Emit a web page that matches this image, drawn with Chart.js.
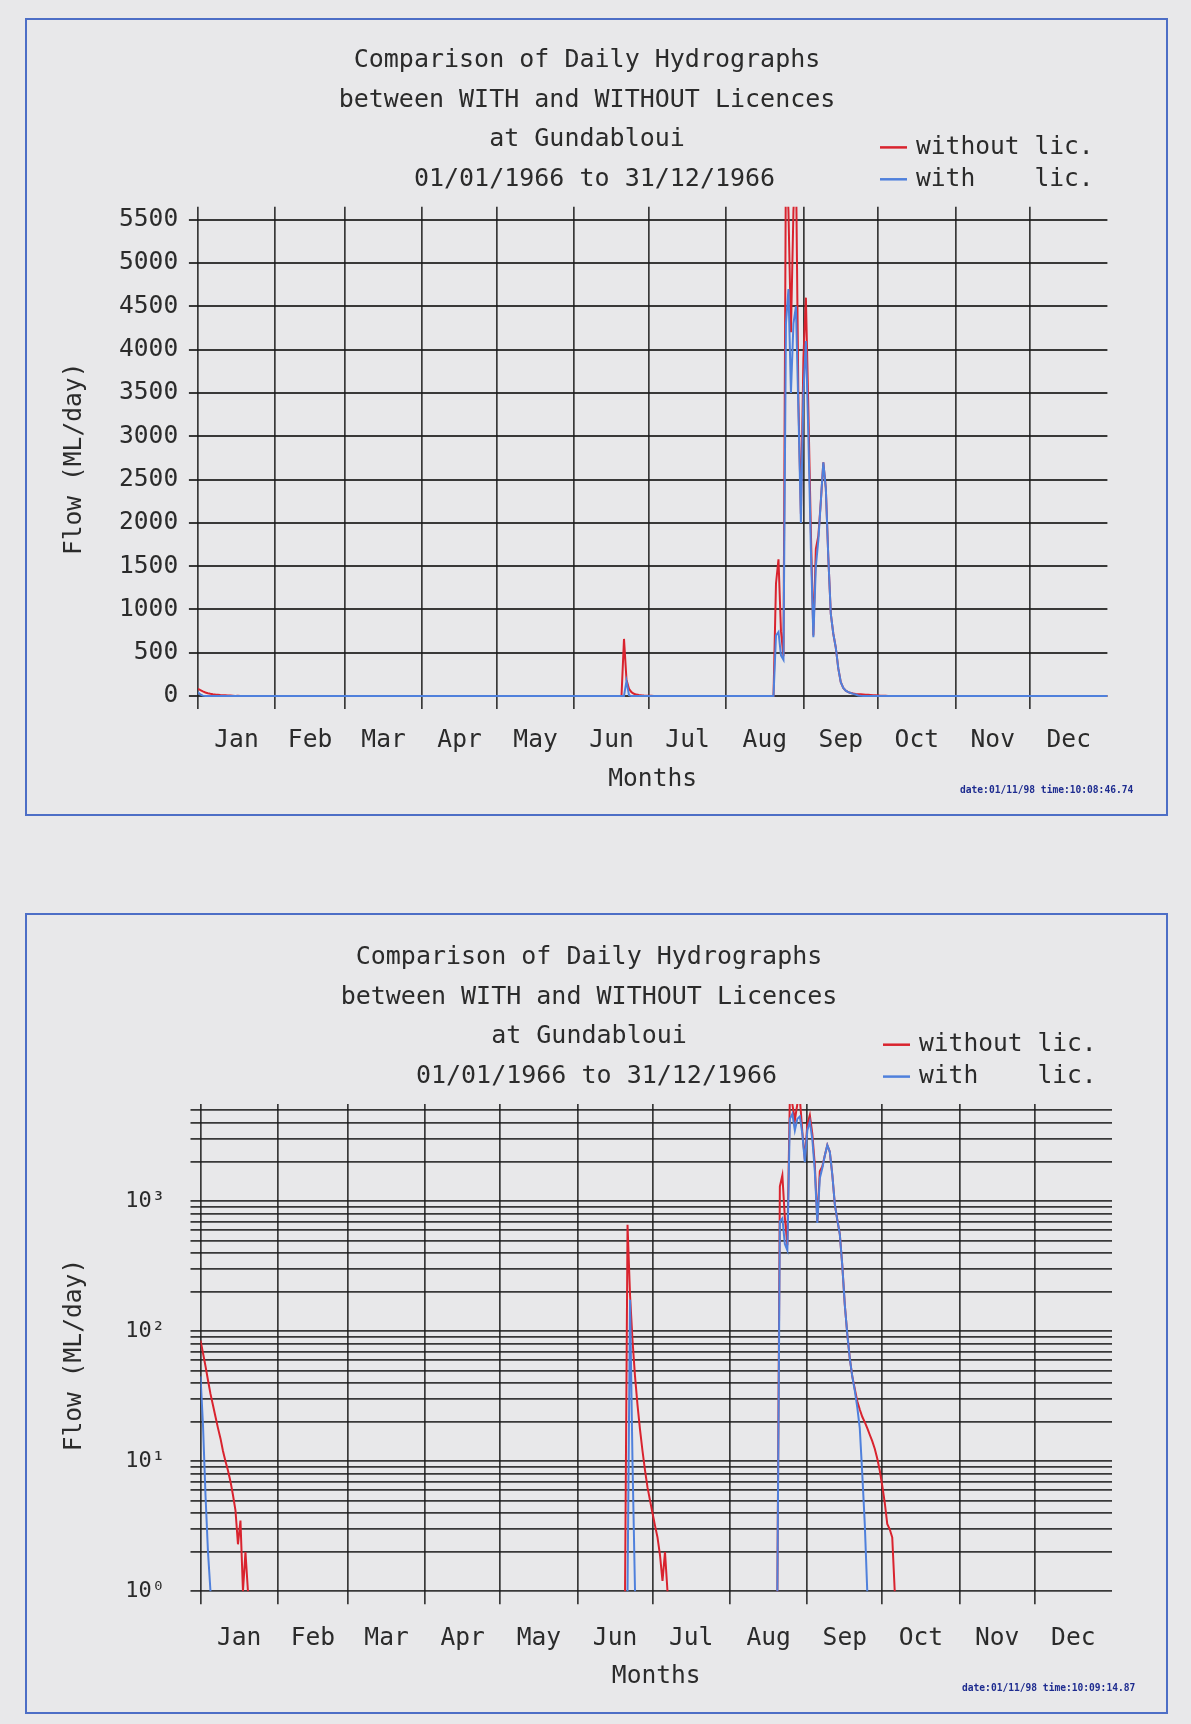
<!DOCTYPE html>
<html>
<head>
<meta charset="utf-8">
<title>Daily Hydrographs – Gundabloui 1966</title>
<script src="https://cdn.jsdelivr.net/npm/chart.js@4.4.1/dist/chart.umd.min.js"></script>
<style>
  html, body { margin: 0; padding: 0; background: #e8e8ea; }
  body { width: 1191px; height: 1724px; position: relative; overflow: hidden; }
  .panel { position: absolute; left: 25px; width: 1139px; border: 2px solid #4d6ec6; }
  #panelLinear { top: 18px; height: 794px; }
  #panelLog { top: 913px; height: 797px; }
  canvas { position: absolute; left: 27px; }
  #linearChart { top: 20px; }
  #logChart { top: 916px; }
  .stamp { position: absolute; font: bold 9.6px "DejaVu Sans Mono", monospace; color: #1d2b8f; white-space: pre; }
  #stampLinear { left: 960px; top: 784px; }
  #stampLog { left: 962px; top: 1682px; }
</style>
</head>
<body>
<div class="panel" id="panelLinear"></div>
<div class="panel" id="panelLog"></div>
<canvas id="linearChart" width="1138" height="793"></canvas>
<canvas id="logChart" width="1138" height="795"></canvas>
<div class="stamp" id="stampLinear">date:01/11/98 time:10:08:46.74</div>
<div class="stamp" id="stampLog">date:01/11/98 time:10:09:14.87</div>

<script>
// ---- calendar (day 0 = 1 Jan 1966) ----
const MONTHS = ['Jan', 'Feb', 'Mar', 'Apr', 'May', 'Jun', 'Jul', 'Aug', 'Sep', 'Oct', 'Nov', 'Dec'];
const MONTH_START = [0, 31, 59, 90, 120, 151, 181, 212, 243, 273, 304, 334];
const YEAR_DAYS = 365;

// ---- axis ticks ----
const LINEAR_TICKS = [0, 500, 1000, 1500, 2000, 2500, 3000, 3500, 4000, 4500, 5000, 5500];
const LOG_TICKS = [1, 2, 3, 4, 5, 6, 7, 8, 9,
                   10, 20, 30, 40, 50, 60, 70, 80, 90,
                   100, 200, 300, 400, 500, 600, 700, 800, 900,
                   1000, 2000, 3000, 4000, 5000];
const LOG_LABELS = { 1: '10⁰', 10: '10¹', 100: '10²', 1000: '10³' };

// ---- daily flows (ML/day), one run per flow event, first day of each run in *Start ----
// without licences
const withoutStart = [0, 170, 231];
const withoutJan = [85, 68, 54, 42, 33, 27, 22, 18, 15, 12, 10, 8.5, 7, 5.5, 4.2, 2.3, 3.5, 0, 2.0, 0];
const withoutJun = [0, 660, 190, 85, 45, 27, 17.5, 12, 8.5, 6.3, 5, 4, 3.2, 2.6, 1.9, 1.2, 2.0, 0];
const withoutAugSep = [0, 1300, 1580, 750, 460, 6300, 5600, 4200, 5600, 6200, 3400, 2100, 3900, 4600,
                       3300, 1900, 700, 1700, 1850, 2250, 2700, 2400, 1600, 950, 720, 560, 320, 160,
                       95, 62, 45, 36, 29, 25, 22, 20, 18, 16, 14.3, 12.5, 10.5, 8.5, 6.5, 4.8, 3.3,
                       3.0, 2.6, 0];
// with licences
const withStart = [0, 171, 231];
const withJan = [45, 19, 5.5, 2, 0];
const withJun = [0, 175, 9.7, 0];
const withAugSep = [0, 700, 740, 470, 420, 4300, 4700, 3500, 4300, 4500, 3300, 2000, 3500, 4100,
                    3000, 1700, 680, 1500, 1800, 2250, 2700, 2400, 1600, 950, 720, 560, 320, 160,
                    95, 62, 45, 35, 26, 18, 8, 3.3, 0];

const SERIES = {
  without: { label: 'without lic.', color: '#d9232e', starts: withoutStart, runs: [withoutJan, withoutJun, withoutAugSep] },
  with:    { label: 'with    lic.', color: '#4f80dc', starts: withStart,    runs: [withJan, withJun, withAugSep] }
};

const TITLE_LINES = [
  'Comparison of Daily Hydrographs',
  'between WITH and WITHOUT Licences',
  'at Gundabloui',
  ' 01/01/1966 to 31/12/1966'
];

// ---- styling ----
const FAMILY = '"DejaVu Sans Mono", "Liberation Mono", monospace';
const INK = '#2b2b2b';
const GRID = 'rgba(28,28,28,0.86)';
const TEXT_FONT = { family: FAMILY, size: 24.6 };

Chart.defaults.font.family = FAMILY;
Chart.defaults.color = INK;

// points of each event run, placed on the day axis
function eventPoints(s) {
  return s.runs.map((run, k) => run.map((v, i) => ({ x: s.starts[k] + i, y: v })));
}
// linear view: runs joined along zero, held at zero to the end of the year
function linearData(s) {
  const pts = eventPoints(s).flat();
  pts.push({ x: YEAR_DAYS, y: 0 });
  return pts;
}
// log view: flows under the axis floor sit on the floor, separate events are not joined
function logData(s, floor) {
  const pts = [];
  eventPoints(s).forEach(run => {
    run.forEach(p => pts.push({ x: p.x, y: Math.max(p.y, floor) }));
    pts.push({ x: run[run.length - 1].x + 0.5, y: null });
  });
  return pts;
}

function datasets(build) {
  return [
    { label: SERIES.without.label, data: build(SERIES.without), borderColor: SERIES.without.color,
      backgroundColor: SERIES.without.color, order: 2 },
    { label: SERIES.with.label, data: build(SERIES.with), borderColor: SERIES.with.color,
      backgroundColor: SERIES.with.color, order: 1 }
  ].map(d => Object.assign(d, {
    borderWidth: 2, pointRadius: 0, pointHoverRadius: 0, tension: 0, spanGaps: false,
    clip: { left: 0, top: 0, right: 0, bottom: 2 }
  }));
}

// legend: short line in the series colour followed by its label
const cornerLegend = {
  id: 'cornerLegend',
  afterDraw(chart, args, opts) {
    const ctx = chart.ctx;
    ctx.save();
    ctx.font = `${opts.size}px ${FAMILY}`;
    ctx.textBaseline = 'middle';
    ctx.textAlign = 'left';
    chart.data.datasets.forEach((ds, k) => {
      const y = opts.y + k * opts.gap;
      ctx.strokeStyle = ds.borderColor;
      ctx.lineWidth = 2.5;
      ctx.beginPath();
      ctx.moveTo(opts.x, y);
      ctx.lineTo(opts.x + 27, y);
      ctx.stroke();
      ctx.fillStyle = INK;
      ctx.fillText(ds.label, opts.x + 36, y);
    });
    ctx.restore();
  }
};

function monthAxes(labelPadding, titlePadding, height) {
  const mids = MONTH_START.map((d, i) => (d + (MONTH_START[i + 1] ?? YEAR_DAYS)) / 2);
  return {
    x: {
      type: 'linear', position: 'bottom', min: 0, max: YEAR_DAYS,
      afterBuildTicks: s => { s.ticks = MONTH_START.map(v => ({ value: v })); },
      ticks: { display: false },
      grid: { color: GRID, lineWidth: 1.7, tickLength: 13, drawTicks: true },
      border: { display: false }
    },
    months: {
      type: 'linear', position: 'bottom', min: 0, max: YEAR_DAYS,
      afterBuildTicks: s => { s.ticks = mids.map(v => ({ value: v })); },
      ticks: { autoSkip: false, maxRotation: 0, padding: labelPadding, font: TEXT_FONT, color: INK,
               callback: (v, i) => MONTHS[i] },
      grid: { display: false, drawTicks: false },
      border: { display: false },
      title: { display: true, text: 'Months', font: TEXT_FONT, color: INK, padding: { top: 0, bottom: titlePadding } },
      afterFit: s => { s.height = height; }
    }
  };
}

function titleOptions(padTop, padBottom) {
  return {
    display: true, text: TITLE_LINES, color: INK, align: 'center',
    font: { family: FAMILY, size: 25, weight: 'normal', lineHeight: 1.58 },
    padding: { top: padTop, bottom: padBottom }
  };
}

const yTitle = { display: true, text: 'Flow (ML/day) ', color: INK,
                 font: { family: FAMILY, size: 24.6, lineHeight: 0.6 }, padding: { top: 1, bottom: 0 } };

// ---- daily flows, linear scale ----
new Chart(document.getElementById('linearChart'), {
  type: 'line',
  data: { datasets: datasets(linearData) },
  options: {
    responsive: false, animation: false, devicePixelRatio: 1,
    layout: { padding: { left: 39.6, right: 57.6, top: 0, bottom: 0 } },
    plugins: {
      title: titleOptions(20.75, 7.95),
      legend: { display: false },
      tooltip: { enabled: false },
      cornerLegend: { x: 853, y: 127.4, gap: 31.9, size: 24.6 }
    },
    scales: Object.assign(monthAxes(17.1, 18.2, 103.9), {
      y: {
        type: 'linear', min: 0, max: 5650,
        afterBuildTicks: s => { s.ticks = LINEAR_TICKS.map(v => ({ value: v })); },
        ticks: { autoSkip: false, padding: 10.7, font: TEXT_FONT, color: INK, callback: v => String(v) },
        grid: { color: GRID, lineWidth: 2, tickLength: 9 },
        border: { display: false },
        title: yTitle,
        afterFit: s => { s.width = 131.3; }
      }
    })
  },
  plugins: [cornerLegend]
});

// ---- daily flows, logarithmic scale ----
const LOG_FLOOR = 1;
new Chart(document.getElementById('logChart'), {
  type: 'line',
  data: { datasets: datasets(s => logData(s, LOG_FLOOR)) },
  options: {
    responsive: false, animation: false, devicePixelRatio: 1,
    layout: { padding: { left: 39, right: 53, top: 0, bottom: 0 } },
    plugins: {
      title: titleOptions(22.05, 7.95),
      legend: { display: false },
      tooltip: { enabled: false },
      cornerLegend: { x: 856, y: 128.7, gap: 31.9, size: 24.6 }
    },
    scales: Object.assign(monthAxes(19.5, 19.2, 106.7), {
      y: {
        type: 'logarithmic', min: LOG_FLOOR, max: 5600,
        afterBuildTicks: s => { s.ticks = LOG_TICKS.map(v => ({ value: v })); },
        ticks: { autoSkip: false, padding: 25.5, font: { family: FAMILY, size: 22 }, color: INK,
                 callback: v => LOG_LABELS[v] || '' },
        grid: { color: GRID, lineWidth: 1.8, tickLength: 10 },
        border: { display: false },
        title: yTitle,
        afterFit: s => { s.width = 134.5; }
      }
    })
  },
  plugins: [cornerLegend]
});
</script>
</body>
</html>
